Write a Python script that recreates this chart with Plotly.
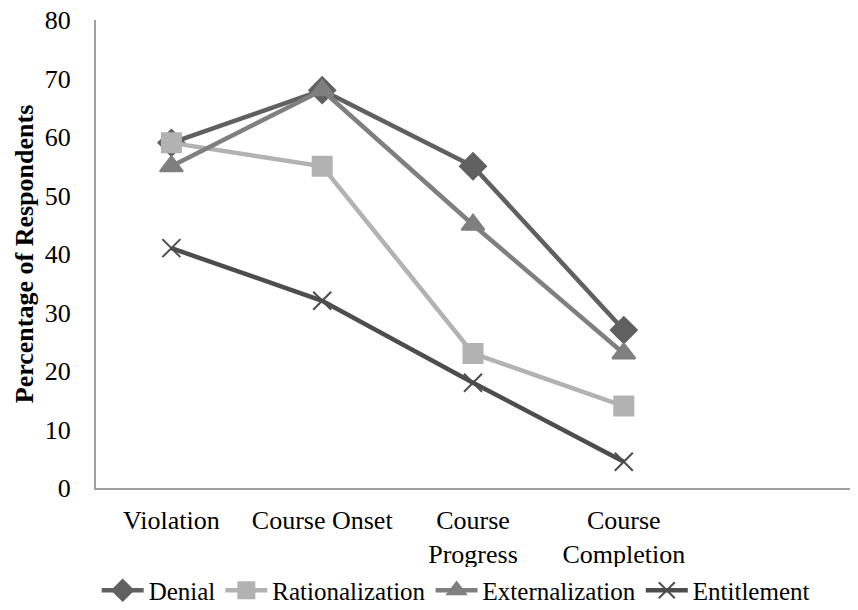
import plotly.graph_objects as go

categories = ["Violation", "Course Onset", "Course<br>Progress", "Course<br>Completion", ""]
denial = [59, 68, 55, 27]
rationalization = [59, 55, 23, 14]
externalization = [55, 68, 45, 23]
entitlement = [41, 32, 18, 4.5]
y_ticks = [0, 10, 20, 30, 40, 50, 60, 70, 80]

x_idx = list(range(4))
font = "Liberation Serif"

fig = go.Figure()
series = [
    ("Denial", denial, "#606060", "diamond", 20),
    ("Rationalization", rationalization, "#b2b2b2", "square", 19),
    ("Externalization", externalization, "#7f7f7f", "triangle-up", 20),
    ("Entitlement", entitlement, "#4d4d4d", "x-thin", 18),
]
for name, vals, col, sym, size in series:
    fig.add_trace(go.Scatter(
        x=x_idx, y=vals, name=name, mode="lines+markers",
        line=dict(color=col, width=4.5),
        marker=dict(symbol=sym, size=size, color=col,
                    line=dict(color=col, width=2)),
    ))

fig.update_layout(
    width=858, height=610,
    margin=dict(l=96, r=8, t=20, b=122),
    paper_bgcolor="white", plot_bgcolor="white",
    font=dict(family=font, size=26, color="#000"),
    showlegend=True,
    legend=dict(orientation="h", x=0.477, xanchor="center",
                yref="container", y=0.032, yanchor="middle",
                font=dict(size=25), tracegroupgap=0, traceorder="normal",
                itemwidth=42),
    xaxis=dict(
        range=[-0.5, 4.5], tickmode="array",
        tickvals=list(range(5)), ticktext=categories,
        showgrid=False, zeroline=False, showline=True, automargin=False,
        linecolor="#a0a0a0", linewidth=2, ticks="", ticklabelstandoff=8,
    ),
    yaxis=dict(
        range=[0, 80], tickmode="array", tickvals=y_ticks,
        showgrid=False, zeroline=False, showline=True, automargin=False,
        linecolor="#a0a0a0", linewidth=2, ticks="", ticklabelstandoff=18,
        title=dict(text="<b>Percentage of Respondents</b>", font=dict(size=26), standoff=4),
    ),
)

fig.write_html(
    "out.html",
    config={"displayModeBar": False},
    post_script="document.body.style.margin='0';document.body.style.overflow='hidden';",
)
